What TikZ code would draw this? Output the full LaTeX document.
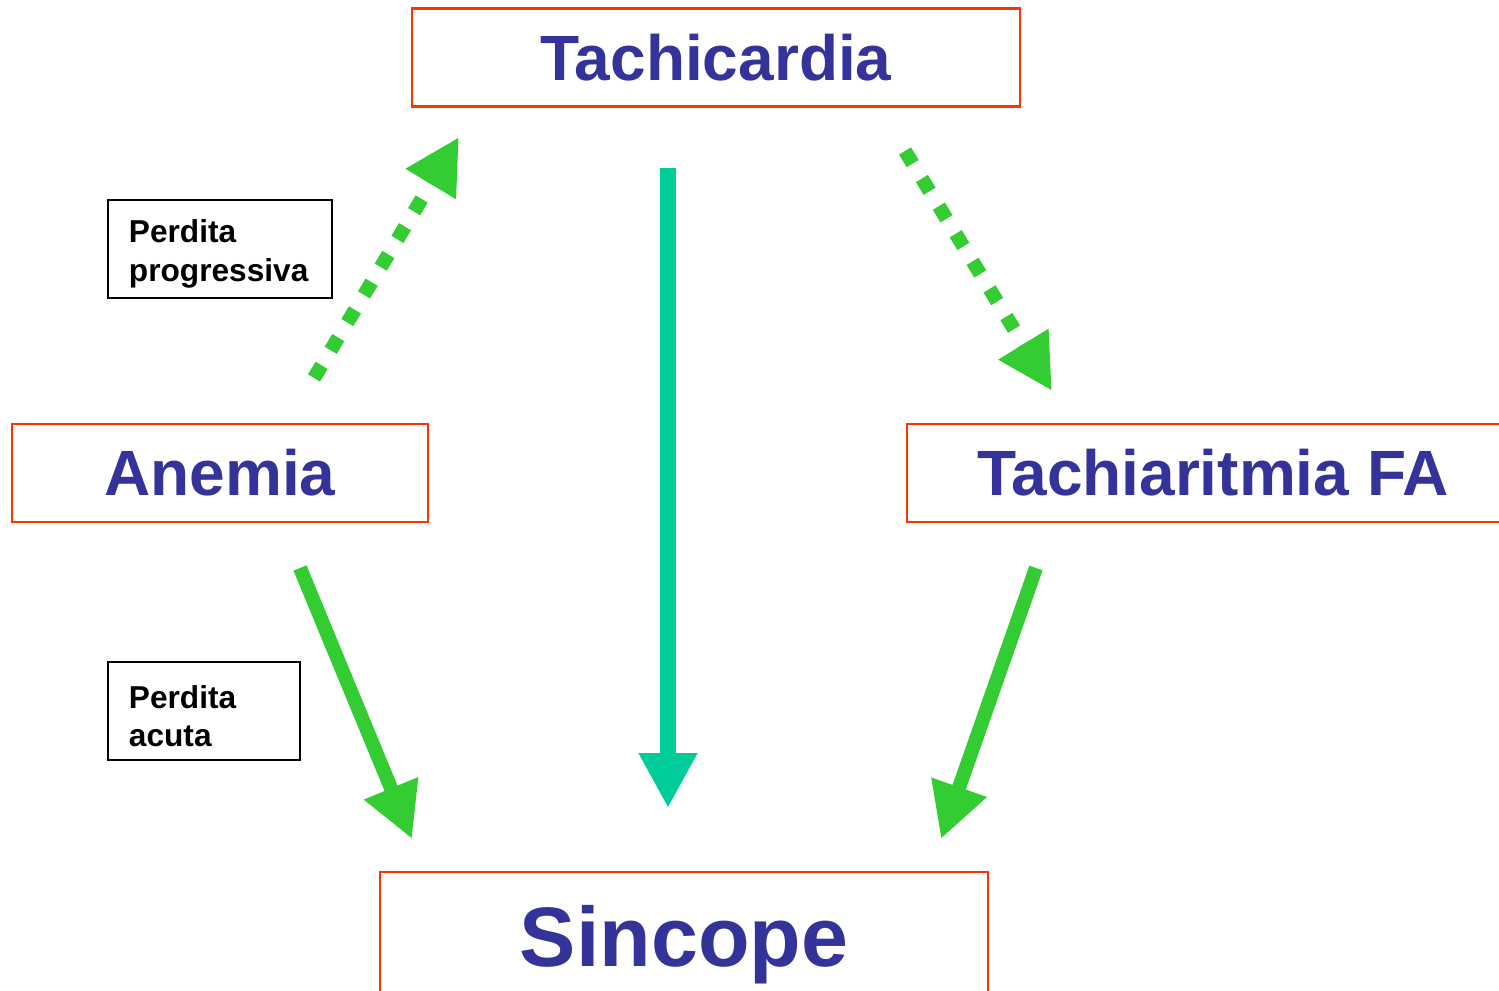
\documentclass[tikz,border=0pt]{standalone}
\usepackage{fontspec}
\setmainfont{Liberation Sans}
\usepackage{tikz}
\usetikzlibrary{positioning, arrows.meta, calc}

\definecolor{titleblue}{HTML}{333399}
\definecolor{boxred}{HTML}{FF3300}
\definecolor{arrowgreen}{HTML}{33CC33}
\definecolor{arrowteal}{HTML}{00CC99}

\tikzset{
  mainbox/.style={draw=boxred, line width=0.6pt, text=titleblue, inner sep=0pt,
    minimum height=0.98cm, font=\fontsize{18.2}{22}\selectfont\bfseries},
  notebox/.style={draw=black, line width=0.7pt, align=left, inner xsep=0.21cm,
    inner ysep=0pt, minimum height=0.98cm, font=\fontsize{9}{11}\selectfont\bfseries},
  flow/.style={line width=4pt, -{Triangle[length=15.6pt,width=15.6pt]}},
  dots/.style={flow, dash pattern=on 4.2pt off 5pt},
}

\begin{document}
\begin{tikzpicture}[x=0.01cm, y=-0.01cm]
\useasboundingbox (0, 0) rectangle (1499, 991);

% boxes
\node[mainbox, minimum width=6.08cm] (tachi) at (716, 57.5) {Tachicardia};
\node[mainbox, minimum width=4.16cm] (anemia) at (220, 473) {Anemia};
\node[mainbox, minimum width=6.12cm] (aritmia) at (1213, 473) {Tachiaritmia FA};
\node[mainbox, minimum width=6.08cm, minimum height=1.46cm,
  font=\fontsize{24}{29}\selectfont\bfseries] (sincope) at (684, 945) {Sincope};

\node[notebox, text width=1.82cm] (progr) at (220, 249) {\rule{0pt}{9.4pt}Perdita\\progressiva};
\node[notebox, text width=1.50cm] (acuta) at (204, 711) {\rule{0pt}{9.4pt}Perdita\\acuta};

% arrow ends
\coordinate (upS) at (314, 378);
\coordinate (upE) at (459, 137);
\coordinate (dnS) at (905, 151);
\coordinate (dnE) at (1052, 391);
\coordinate (midS) at (668, 168);
\coordinate (midE) at (668, 808);
\coordinate (leftS) at (300, 568);
\coordinate (leftE) at (412, 839);
\coordinate (rightS) at (1036, 568);
\coordinate (rightE) at (941, 839);

\draw[dots, arrowgreen] (upS) -- (upE);
\draw[dots, arrowgreen] (dnS) -- (dnE);
\draw[flow, arrowteal, line width=4.5pt] (midS) -- (midE);
\draw[flow, arrowgreen] (leftS) -- (leftE);
\draw[flow, arrowgreen] (rightS) -- (rightE);
\end{tikzpicture}
\end{document}
